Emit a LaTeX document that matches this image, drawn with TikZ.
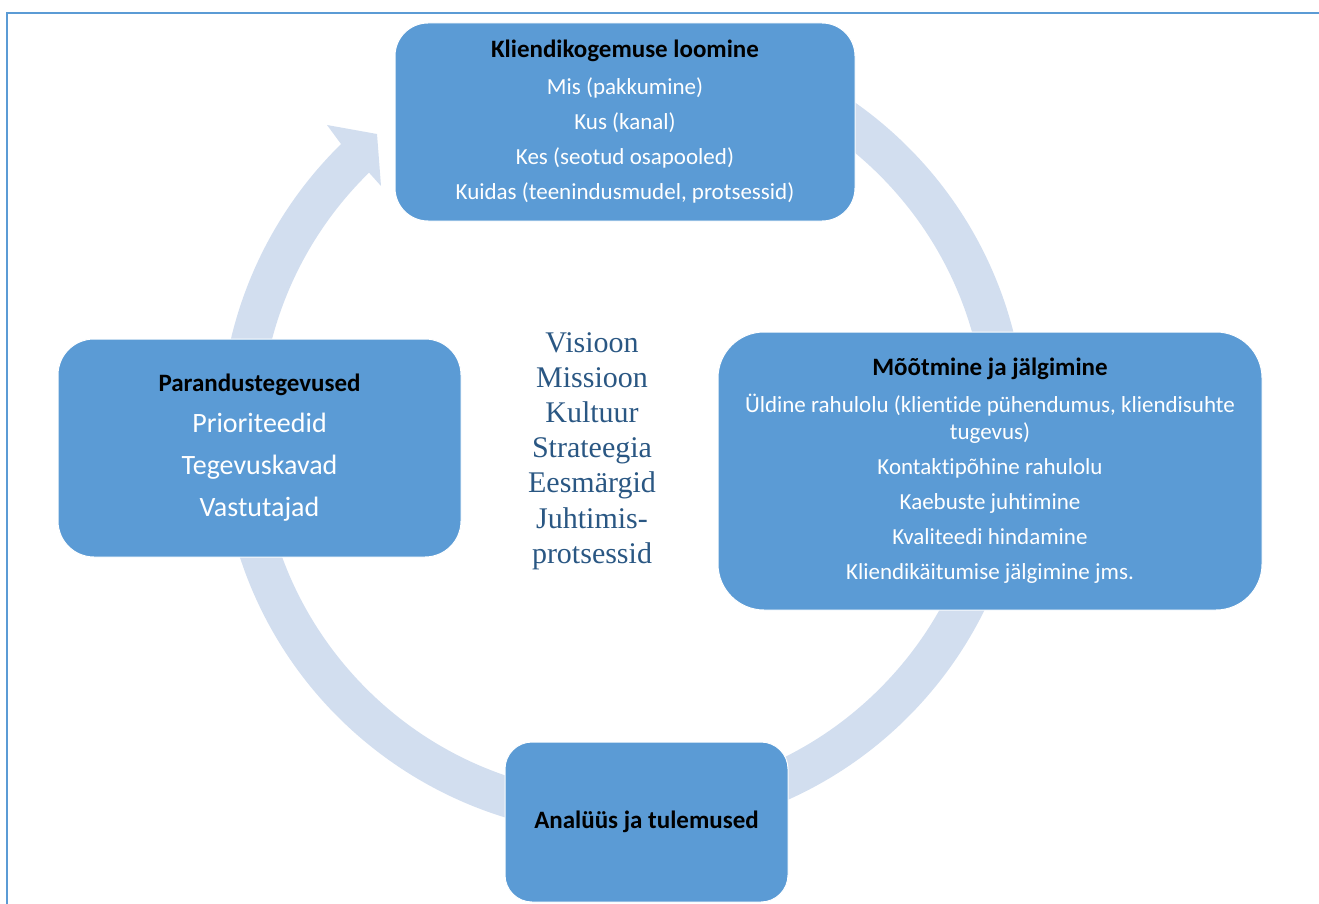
\documentclass[tikz,border=0pt]{standalone}
\usepackage{fontspec}
\setmainfont{Carlito}[Ligatures=NoCommon]
\newfontfamily\centerserif{Liberation Serif}
\usetikzlibrary{calc}
\definecolor{boxblue}{HTML}{5B9BD5}
\definecolor{ringblue}{HTML}{D2DEEF}
\definecolor{midtext}{HTML}{2A5783}
\begin{document}
\begin{tikzpicture}[x=1pt,y=-1pt,
  cbox/.style={rounded corners=#1, fill=boxblue, draw=white, line width=1pt,
    align=center, inner sep=0pt, text=white},
]
\useasboundingbox (0,0) rectangle (1319,904);
% frame
\draw[boxblue, line width=2.5pt] (7,904) -- (7,13) -- (1319,13);
% ring arrow
\coordinate (c) at (623,432);
\coordinate (barbout) at (327,125);
\coordinate (tip) at (377,134);
\coordinate (barbin) at (381,186);
\fill[ringblue] ($(c)+(-100:403)$) arc[start angle=-100,end angle=225.6,radius=403]
  -- (barbout) -- (tip) -- (barbin) -- ($(c)+(225.6:363)$)
  arc[start angle=225.6,end angle=-100,radius=363] -- cycle;
% boxes
\node[cbox=33pt, minimum width=460pt, minimum height=198pt,
  font=\fontsize{23}{35}\selectfont] (top) at (625,122)
  {{\color{black}\bfseries\fontsize{25}{35}\selectfont Kliendikogemuse loomine}\\[2pt]
   Mis (pakkumine)\\
   Kus (kanal)\\
   Kes (seotud osapooled)\\
   Kuidas (teenindusmudel, protsessid)};
\node[cbox=46pt, minimum width=544pt, minimum height=278pt,
  font=\fontsize{23}{35}\selectfont] (right) at (990,471)
  {{\color{black}\bfseries\fontsize{25}{35}\selectfont Mõõtmine ja jälgimine}\\[2pt]
   Üldine rahulolu (klientide pühendumus, kliendisuhte\\[-8pt]
   tugevus)\\
   Kontaktipõhine rahulolu\\
   Kaebuste juhtimine\\
   Kvaliteedi hindamine\\
   Kliendikäitumise jälgimine jms.};
\node[cbox=36pt, minimum width=403pt, minimum height=218pt,
  font=\fontsize{28}{42}\selectfont] (left) at (259.5,448)
  {{\color{black}\bfseries\fontsize{25}{42}\selectfont Parandustegevused}\\[-1pt]
   Prioriteedid\\
   Tegevuskavad\\
   Vastutajad};
\node[cbox=27pt, minimum width=283pt, minimum height=160pt] (bottom) at (646.5,822)
  {{\color{black}\bfseries\fontsize{25}{30}\selectfont Analüüs ja tulemused}};
% centre text
\node[align=center, inner sep=0pt, text=midtext,
  font=\centerserif\fontsize{30}{35.2}\selectfont] (core) at (592,451)
  {Visioon\\Missioon\\Kultuur\\Strateegia\\Eesmärgid\\Juhtimis-\\protsessid};
\end{tikzpicture}
\end{document}
